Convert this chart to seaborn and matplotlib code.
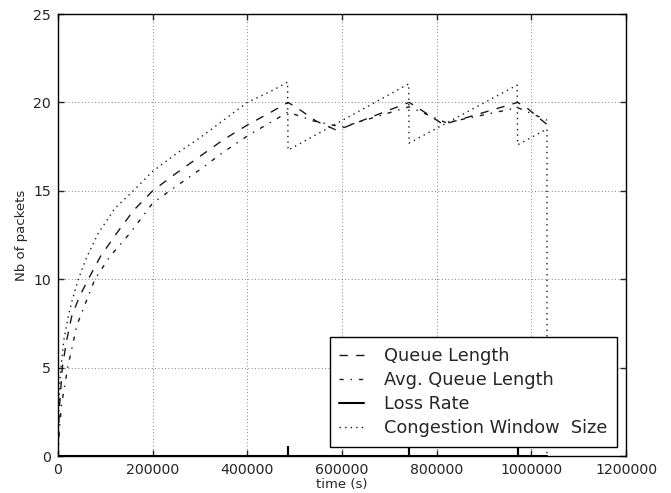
import seaborn as sns
import matplotlib.pyplot as plt

# values
cwnd_t = [0, 1500, 3500, 6300, 12000, 21800, 30000, 43000, 60000, 85000, 120000,
          159000, 200000, 250000, 300000, 350000, 400000, 455000, 485000, 486000,
          741000, 741600, 970000, 971000, 1033000, 1033000]
cwnd = [0, 2.5, 4.0, 5.0, 6.5, 7.9, 8.8, 10.0, 11.2, 12.6, 14.0,
        15.0, 16.1, 17.1, 18.0, 19.0, 20.0, 20.7, 21.15, 17.3,
        21.05, 17.7, 20.98, 17.6, 18.5, 0]

queue_t = [0, 2500, 9100, 18000, 29000, 45000, 64000, 90000, 124000, 160000,
           200000, 250000, 300000, 350000, 400000, 450000, 486000, 510000,
           545000, 589000, 741600, 760000, 814000, 971000, 990000, 1033000]
queue = [0, 2.5, 5.0, 6.5, 7.9, 9.0, 10.0, 11.3, 12.6, 13.9,
         15.0, 16.0, 16.95, 17.9, 18.72, 19.45, 20.0, 19.6,
         18.95, 18.42, 20.0, 19.7, 18.75, 20.0, 19.7, 18.75]

avg_t = [0, 3000, 8000, 20500, 40000, 78000, 110000, 152000, 200000, 236000,
         300000, 350000, 400000, 486000, 540000, 600000, 741600, 820000,
         971000, 1033000]
avg = [0, 1.5, 3.0, 5.0, 7.4, 10.0, 11.3, 12.6, 14.3, 15.0,
       16.2, 17.2, 18.1, 19.45, 18.95, 18.6, 19.75, 18.85,
       19.7, 19.0]

loss_t = [0, 486000, 486000, 486000, 741600, 741600, 741600, 971000, 971000, 971000, 1033000]
loss = [0, 0, 0.5, 0, 0, 0.5, 0, 0, 0.5, 0, 0]

sns.set_style("white", {"axes.edgecolor": "black", "axes.grid": True,
                        "xtick.direction": "in", "ytick.direction": "in"})
plt.rcParams["font.family"] = ["DejaVu Sans"]

fig, ax = plt.subplots(figsize=(6.71, 4.93), dpi=100)
fig.subplots_adjust(left=0.0864, right=0.933, bottom=0.075, top=0.9716)

sns.lineplot(x=queue_t, y=queue, estimator=None, sort=False, ax=ax, color="0.1",
             linewidth=1, linestyle=(0, (6, 6)), label="Queue Length")
sns.lineplot(x=avg_t, y=avg, estimator=None, sort=False, ax=ax, color="0.1",
             linewidth=1, linestyle=(0, (3, 5, 1, 5)), label="Avg. Queue Length")
sns.lineplot(x=loss_t, y=loss, estimator=None, sort=False, ax=ax, color="black",
             linewidth=1.5, linestyle="-", label="Loss Rate")
sns.lineplot(x=cwnd_t, y=cwnd, estimator=None, sort=False, ax=ax, color="0.1",
             linewidth=1, linestyle=(0, (1, 3)), label="Congestion Window  Size")

ax.set_xlim(0, 1200000)
ax.set_ylim(0, 25)
ax.set_xticks([0, 200000, 400000, 600000, 800000, 1000000, 1200000])
ax.set_xticklabels(["0", "200000", "400000", "600000", "800000", "1000000", "1200000"])
ax.set_yticks([0, 5, 10, 15, 20, 25])
ax.grid(True, color="0.35", linestyle=(0, (1, 3)), linewidth=0.6)
ax.tick_params(axis="both", which="both", direction="in", length=4, width=1,
               top=True, right=True, bottom=True, left=True, labelsize=10.2, pad=5)
for s in ax.spines.values():
    s.set_color("black")
    s.set_linewidth(1)
ax.set_xlabel("time (s)", fontsize=9.5, labelpad=1)
ax.set_ylabel("Nb of packets", fontsize=9.5, labelpad=4)

leg = ax.legend(loc="lower right", bbox_to_anchor=(0.984, 0.02), borderaxespad=0,
                fontsize=12.8, frameon=True, fancybox=False, framealpha=1,
                edgecolor="black", handlelength=1.4, handletextpad=1.1,
                labelspacing=0.34, borderpad=0.55)
leg.get_frame().set_linewidth(1)

plt.savefig("out.png", dpi=100)
